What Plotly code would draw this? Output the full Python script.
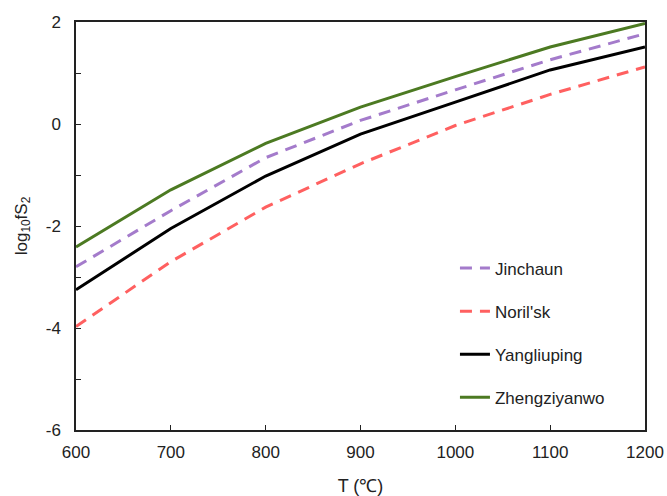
import plotly.graph_objects as go

# Temperature grid (°C)
temperature = [600, 700, 800, 900, 1000, 1100, 1200]

# log10 fS2 for each deposit
jinchaun = [-2.80, -1.70, -0.66, 0.07, 0.67, 1.26, 1.77]
norilsk = [-3.97, -2.70, -1.63, -0.78, -0.03, 0.58, 1.12]
yangliuping = [-3.25, -2.05, -1.02, -0.20, 0.43, 1.06, 1.51]
zhengziyanwo = [-2.41, -1.29, -0.38, 0.33, 0.93, 1.51, 1.97]

series_names = ["Jinchaun", "Noril'sk", "Yangliuping", "Zhengziyanwo"]

y_tick_values = [-6, -4, -2, 0, 2]
y_tick_labels = ["-6", "-4", "-2", "0", "2"]
y_minor_tick_values = [-5, -3, -1, 1]
x_tick_values = [600, 700, 800, 900, 1000, 1100, 1200]

FONT = "Liberation Sans, Arial, sans-serif"

styles = [
    dict(color="#A47BCB", width=3, dash="12px,8px"),
    dict(color="#FF6060", width=3, dash="12px,8px"),
    dict(color="#000000", width=3, dash="solid"),
    dict(color="#4C7A22", width=3, dash="solid"),
]

fig = go.Figure()
for name, values, style in zip(series_names, [jinchaun, norilsk, yangliuping, zhengziyanwo], styles):
    fig.add_trace(go.Scatter(
        x=temperature, y=values, mode="lines", name=name,
        line=style, legendgroup=name,
    ))

fig.update_layout(
    width=667, height=496,
    margin=dict(l=76, r=22, t=22, b=66),
    paper_bgcolor="white", plot_bgcolor="white",
    font=dict(family=FONT, size=17, color="#222222"),
    showlegend=True,
    legend=dict(
        x=0.666, y=0.44, xanchor="left", yanchor="top",
        bgcolor="rgba(0,0,0,0)", font=dict(size=17, color="#222222"),
        tracegroupgap=18, itemwidth=30,
    ),
    xaxis=dict(
        range=[600, 1200], tickvals=x_tick_values, automargin=False,
        ticks="inside", ticklen=5, tickcolor="#222222", tickwidth=1,
        showline=True, linecolor="#222222", linewidth=1.5, mirror=True,
        showgrid=False, zeroline=False,
        tickfont=dict(size=17), ticklabelstandoff=6,
        title=dict(text="T (℃)", font=dict(size=18), standoff=19),
    ),
    yaxis=dict(
        range=[-6, 2], tickvals=y_tick_values, ticktext=y_tick_labels, automargin=False,
        ticks="inside", ticklen=5, tickcolor="#222222", tickwidth=1,
        minor=dict(tickvals=y_minor_tick_values, ticks="inside", ticklen=5,
                   tickcolor="#222222", tickwidth=1, showgrid=False),
        showline=True, linecolor="#222222", linewidth=1.5, mirror=True,
        showgrid=False, zeroline=False,
        tickfont=dict(size=17), ticklabelstandoff=10,
        title=dict(text="log<sub>10</sub>fS<sub>2</sub>", font=dict(size=17), standoff=14),
    ),
)

fig.write_html("out.html")
